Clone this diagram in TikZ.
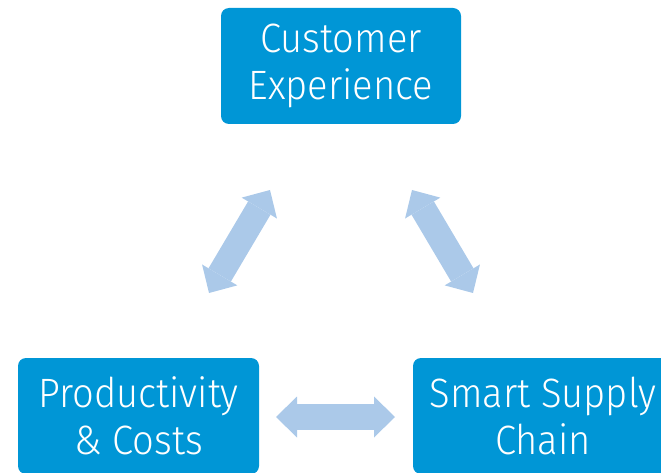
\documentclass[tikz,border=0pt]{standalone}
\usepackage{fontspec}
\setmainfont{Fira Sans}[UprightFont=* Light, FakeStretch=0.93]
\usetikzlibrary{arrows.meta}
\definecolor{boxblue}{RGB}{0,150,214}
\definecolor{linkblue}{RGB}{171,201,233}
\begin{document}
\begin{tikzpicture}[x=1pt,y=-1pt,
    block/.style={fill=boxblue,rounded corners=8pt,text=white,align=center,
      minimum height=116pt,inner sep=0pt,font=\fontsize{41}{47}\selectfont},
    link/.style={draw=linkblue,line width=26pt,{Triangle[length=21pt 0 0,width=41pt 0 0,line width=0pt 0 0]}-{Triangle[length=21pt 0 0,width=41pt 0 0,line width=0pt 0 0]}}]
    \useasboundingbox (0,0) rectangle (661,473);
      \node[block,minimum width=240pt] (cx) at (341,66) {Customer\\Experience};
      \node[block,minimum width=241pt] (pc) at (138.5,416) {Productivity\\\& Costs};
      \node[block,minimum width=260pt] (sc) at (543,416) {Smart Supply\\Chain};
      \coordinate (l1) at (209,293); \coordinate (l2) at (270,190);
      \coordinate (r1) at (412,190); \coordinate (r2) at (473,293);
      \coordinate (b1) at (276,417); \coordinate (b2) at (395,417);
      \draw [link] (l1) -- (l2);
      \draw [link] (r1) -- (r2);
      \draw [link] (b1) -- (b2);
  \end{tikzpicture}
\end{document}
